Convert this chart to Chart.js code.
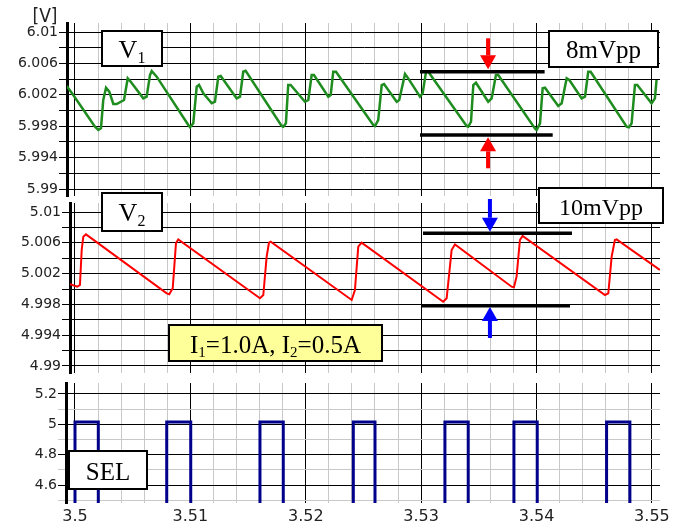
<!DOCTYPE html>
<html>
<head>
<meta charset="utf-8">
<script src="https://cdn.jsdelivr.net/npm/chart.js@4/dist/chart.umd.min.js"></script>
<style>
html,body{margin:0;padding:0;background:#fff;}
#wrap{position:relative;width:683px;height:527px;overflow:hidden;}
#wrap canvas{position:absolute;left:0;top:0;}
</style>
</head>
<body>
<div id="wrap">
  <canvas id="c1" width="683" height="527"></canvas>
  <canvas id="c2" width="683" height="527"></canvas>
  <canvas id="c3" width="683" height="527"></canvas>
</div>
<script>
// ========= DATA =========
// V1 (top trace)
const v1Time = [3.49928,3.49985,3.50173,3.50202,3.50225,3.50245,3.50269,3.50297,3.50332,3.50361,3.50425,3.50457,3.50483,3.50592,3.50621,3.5065,3.50665,3.50708,3.50982,3.50997,3.51025,3.51055,3.51075,3.51112,3.51185,3.51213,3.51242,3.51263,3.51401,3.5143,3.51458,3.51479,3.51791,3.51805,3.51828,3.51848,3.51869,3.51993,3.52022,3.52051,3.52071,3.52195,3.52216,3.52238,3.52262,3.52585,3.526,3.52628,3.52658,3.52678,3.52788,3.5281,3.5286,3.52888,3.5299,3.53013,3.53042,3.53062,3.53394,3.53408,3.53432,3.53452,3.53475,3.53581,3.53611,3.53648,3.53668,3.53986,3.54001,3.5403,3.54053,3.54073,3.54188,3.54218,3.54261,3.54284,3.54391,3.5442,3.54448,3.54469,3.54781,3.54801,3.54824,3.54853,3.54873,3.54997,3.55026,3.5504];
const v1Volt = [6.00312,6.00197,5.99794,5.99752,5.99773,6.00134,6.0029,6.0024,6.00083,6.00083,6.00134,6.0041,6.00367,6.00155,6.00176,6.00452,6.00503,6.00431,5.99815,5.99786,5.99837,6.00303,6.00325,6.00219,6.00092,6.00112,6.00431,6.0044,6.00155,6.00176,6.00494,6.00507,5.99803,5.99794,5.99837,6.00325,6.00325,6.00112,6.00134,6.00452,6.00452,6.00176,6.00197,6.00494,6.00494,5.99815,5.99803,5.99879,6.00325,6.00338,6.00112,6.00134,6.00465,6.0041,6.00176,6.00219,6.00494,6.00494,5.99803,5.99794,5.99857,6.00325,6.00354,6.00112,6.00155,6.00452,6.00452,5.99773,5.99752,5.99837,6.00283,6.0029,6.00057,6.00092,6.0041,6.00389,6.00155,6.00176,6.00494,6.00494,5.99794,5.99786,5.99837,6.00325,6.00325,6.00092,6.00155,6.00389];
const v1TickLabels = ['5.99','5.994','5.998','6.002','6.006','6.01'];
const v1BarUpperX = [3.5299, 3.5407];
const v1BarLowerX = [3.5299, 3.5414];
const v1BarY = [6.00494, 5.99688];       // upper, lower
const v1ArrowX = 3.5358;
const v1ArrowDown = [6.0092, 6.00525];   // tail, tip
const v1ArrowUp = [5.99264, 5.99659];    // tail, tip

// V2 (middle trace)
const v2Time = [3.49957,3.5002,3.50043,3.50058,3.50072,3.50095,3.50795,3.50817,3.50847,3.50875,3.50895,3.51603,3.51632,3.51661,3.51681,3.51696,3.52398,3.52426,3.52455,3.52484,3.53191,3.53221,3.53264,3.53293,3.53784,3.53804,3.53827,3.53856,3.53879,3.54593,3.54622,3.54651,3.54679,3.54694,3.55069];
const v2Volt = [5.00061,5.0003,5.00052,5.00506,5.00679,5.0071,4.99944,4.99931,5.00009,5.00593,5.00645,4.99879,4.99922,5.0042,5.00601,5.00614,4.99857,4.99987,5.00549,5.00601,4.99835,4.99879,5.00506,5.0058,5.0003,5.00022,5.0016,5.00636,5.00688,4.99922,4.99944,5.0042,5.00636,5.00645,5.00247];
const v2TickLabels = ['4.99','4.994','4.998','5.002','5.006','5.01'];
const v2BarUpperX = [3.53016, 3.54307];
const v2BarLowerX = [3.53004, 3.5429];
const v2BarY = [5.00723, 4.99783];
const v2ArrowX = 3.53596;
const v2ArrowDown = [5.01169, 5.00744];
const v2ArrowUp = [4.99364, 4.99766];

// SEL (bottom trace)
const selRise = [3.5, 3.50795, 3.51603, 3.52412, 3.53206, 3.53804, 3.54607];
const selFall = [3.50202, 3.51003, 3.51805, 3.526, 3.53408, 3.54006, 3.54809];
const selHigh = 5.015;
const selLow = 0;
const selTickLabels = ['4.6','4.8','5','5.2'];

const timeTickLabels = ['3.5','3.51','3.52','3.53','3.54','3.55'];

// ========= HELPERS =========
const X_MAX = 3.5507;
const SERIF = "'Liberation Serif','Times New Roman',serif";
const near = (a, b) => Math.abs(a - b) < 1e-7;
const onStep = (v, step) => Math.abs(v / step - Math.round(v / step)) < 1e-6;
const pts = (xs, ys) => xs.map((x, i) => ({x, y: ys[i]}));
const findLabel = (list, v) => list.find(s => near(parseFloat(s), v)) || '';

function lattice(min, max, step){
    const out = [];
    for(let k = Math.ceil(min / step - 1e-9); k * step <= max + 1e-9; k++) out.push({value: +(k * step).toFixed(6)});
    return out;
}

function selPoints(){
    const p = [];
    selRise.forEach((r, i) => {
        p.push({x: r, y: selLow}, {x: r, y: selHigh}, {x: selFall[i], y: selHigh}, {x: selFall[i], y: selLow});
    });
    return p;
}

function drawBox(ctx, x, y, w, h, fill, parts, baseOff){
    ctx.save();
    ctx.fillStyle = fill;
    ctx.fillRect(x, y, w, h);
    ctx.lineWidth = 2;
    ctx.strokeStyle = '#000';
    ctx.strokeRect(x, y, w, h);
    let total = 0;
    const widths = parts.map(p => { ctx.font = p.size + 'px ' + SERIF; const m = ctx.measureText(p.t).width; total += m; return m; });
    let cx = x + (w - total) / 2;
    const base = y + h / 2 + baseOff;
    ctx.fillStyle = '#000';
    ctx.textAlign = 'left';
    ctx.textBaseline = 'alphabetic';
    parts.forEach((p, i) => {
        ctx.font = p.size + 'px ' + SERIF;
        ctx.fillText(p.t, cx, base + (p.dy || 0));
        cx += widths[i];
    });
    ctx.restore();
}

function drawArrow(ctx, x, yTail, yTip, color){
    const dir = yTip > yTail ? 1 : -1;
    const head = 14, half = 8;
    ctx.save();
    ctx.strokeStyle = color;
    ctx.fillStyle = color;
    ctx.lineWidth = 4;
    ctx.beginPath();
    ctx.moveTo(x, yTail);
    ctx.lineTo(x, yTip - dir * head);
    ctx.stroke();
    ctx.beginPath();
    ctx.moveTo(x, yTip);
    ctx.lineTo(x - half, yTip - dir * head);
    ctx.lineTo(x + half, yTip - dir * head);
    ctx.closePath();
    ctx.fill();
    ctx.restore();
}

function lineSet(data, color, width){
    return {data, borderColor: color, borderWidth: width, pointRadius: 0, tension: 0, fill: false, borderJoinStyle: 'miter', borderCapStyle: 'butt'};
}

function options(cfg){
    return {
        responsive: false,
        animation: false,
        events: [],
        layout: {padding: cfg.padding},
        plugins: {legend: {display: false}, tooltip: {enabled: false}},
        scales: {
            x: {
                type: 'linear', bounds: 'data', min: cfg.xMin, max: X_MAX,
                afterBuildTicks: s => { s.ticks = lattice(s.min, s.max, 0.002); },
                afterFit: s => { s.height = cfg.xHeight; },
                border: {display: false},
                grid: {
                    color: c => (c.tick && onStep(c.tick.value, 0.01)) ? '#000' : '#c8c8c8',
                    lineWidth: 1, drawTicks: false
                },
                ticks: {
                    display: cfg.showX, autoSkip: false, maxRotation: 0, minRotation: 0, padding: 4,
                    color: '#222', font: {family: 'DejaVu Sans', size: 16},
                    callback: v => findLabel(timeTickLabels, v)
                }
            },
            y: {
                type: 'linear', bounds: 'data', min: cfg.yMin, max: cfg.yMax,
                afterBuildTicks: s => { s.ticks = lattice(s.min, s.max, cfg.yStep); },
                afterFit: s => { s.width = cfg.left; },
                border: {display: true, color: '#000', width: 3},
                grid: {color: cfg.yGrid, lineWidth: 1, drawTicks: true, tickLength: 8},
                ticks: {
                    autoSkip: false, padding: 1, color: '#222', font: {family: 'DejaVu Sans', size: 14},
                    callback: v => findLabel(cfg.yLabels, v)
                }
            }
        }
    };
}

// ========= TOP: V1 =========
new Chart(document.getElementById('c1'), {
    type: 'line',
    data: {datasets: [
        lineSet(pts(v1BarUpperX, [v1BarY[0], v1BarY[0]]), '#000', 3.5),
        lineSet(pts(v1BarLowerX, [v1BarY[1], v1BarY[1]]), '#000', 3.5),
        lineSet(pts(v1Time, v1Volt), '#1e8c1e', 2.5)
    ]},
    options: options({
        padding: {left: 0, top: 23, right: 23, bottom: 331},
        left: 67, xMin: 3.5 - 8 / 11540, xHeight: 0, showX: false,
        yMin: 5.98911, yMax: 6.01115, yStep: 0.002, yLabels: v1TickLabels,
        yGrid: '#000'
    }),
    plugins: [{
        id: 'notesV1',
        afterDraw(chart){
            const ctx = chart.ctx, xs = chart.scales.x, ys = chart.scales.y;
            ctx.save();
            ctx.font = "19px 'Liberation Sans Narrow','DejaVu Sans Condensed',sans-serif";
            ctx.fillStyle = '#222';
            ctx.textAlign = 'center';
            ctx.textBaseline = 'alphabetic';
            ctx.fillText('[V]', 45, 22);
            ctx.restore();
            const ax = xs.getPixelForValue(v1ArrowX);
            drawArrow(ctx, ax, ys.getPixelForValue(v1ArrowDown[0]), ys.getPixelForValue(v1ArrowDown[1]), '#ff0000');
            drawArrow(ctx, ax, ys.getPixelForValue(v1ArrowUp[0]), ys.getPixelForValue(v1ArrowUp[1]), '#ff0000');
            drawBox(ctx, 102, 31, 60, 35, '#fff', [{t: 'V', size: 26}, {t: '1', size: 16, dy: 5}], 9);
            drawBox(ctx, 549, 31, 109, 36, '#fff', [{t: '8mVpp', size: 25}], 9);
        }
    }]
});

// ========= MIDDLE: V2 =========
new Chart(document.getElementById('c2'), {
    type: 'line',
    data: {datasets: [
        lineSet(pts(v2BarUpperX, [v2BarY[0], v2BarY[0]]), '#000', 3.5),
        lineSet(pts(v2BarLowerX, [v2BarY[1], v2BarY[1]]), '#000', 3.5),
        lineSet(pts(v2Time, v2Volt), '#ff0000', 2)
    ]},
    options: options({
        padding: {left: 0, top: 203, right: 23, bottom: 154},
        left: 70, xMin: 3.5 - 5 / 11540, xHeight: 0, showX: false,
        yMin: 4.98909, yMax: 5.01117, yStep: 0.002, yLabels: v2TickLabels,
        yGrid: '#000'
    }),
    plugins: [{
        id: 'notesV2',
        afterDraw(chart){
            const ctx = chart.ctx, xs = chart.scales.x, ys = chart.scales.y;
            const ax = xs.getPixelForValue(v2ArrowX);
            drawArrow(ctx, ax, ys.getPixelForValue(v2ArrowDown[0]), ys.getPixelForValue(v2ArrowDown[1]), '#0000ff');
            drawArrow(ctx, ax, ys.getPixelForValue(v2ArrowUp[0]), ys.getPixelForValue(v2ArrowUp[1]), '#0000ff');
            drawBox(ctx, 102, 193, 60, 38, '#fff', [{t: 'V', size: 26}, {t: '2', size: 16, dy: 5}], 9);
            drawBox(ctx, 539, 188, 124, 35, '#fff', [{t: '10mVpp', size: 24}], 9);
            drawBox(ctx, 169, 325, 213, 36, '#ffff99', [
                {t: 'I', size: 25}, {t: '1', size: 15, dy: 4}, {t: '=1.0A, I', size: 25},
                {t: '2', size: 15, dy: 4}, {t: '=0.5A', size: 25}
            ], 10);
        }
    }]
});

// ========= BOTTOM: SEL =========
new Chart(document.getElementById('c3'), {
    type: 'line',
    data: {datasets: [
        lineSet(selPoints(), '#00008b', 3)
    ]},
    options: options({
        padding: {left: 0, top: 383, right: 23, bottom: 0},
        left: 66, xMin: 3.5 - 9 / 11540, xHeight: 24, showX: true,
        yMin: 4.4814, yMax: 5.2725, yStep: 0.1, yLabels: selTickLabels,
        yGrid: c => (c.tick && onStep(c.tick.value, 0.2)) ? '#000' : '#c8c8c8'
    }),
    plugins: [{
        id: 'notesSel',
        afterDraw(chart){
            drawBox(chart.ctx, 69, 451, 78, 38, '#fff', [{t: 'SEL', size: 25}], 10);
        }
    }]
});
</script>
</body>
</html>
